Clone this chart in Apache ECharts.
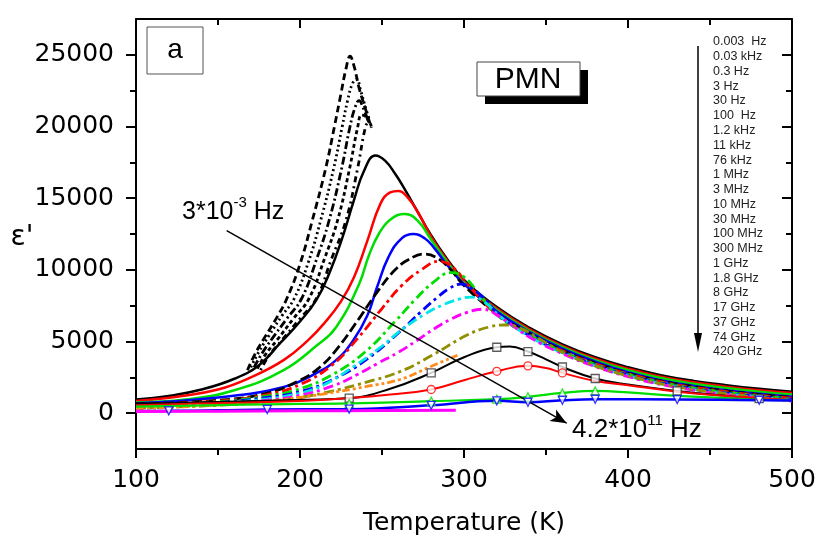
<!DOCTYPE html>
<html><head><meta charset="utf-8">
<script src="https://cdn.jsdelivr.net/npm/echarts@6/dist/echarts.min.js"></script>
<style>html,body{margin:0;padding:0;background:#fff}#c{width:820px;height:546px}</style>
</head><body><div id="c"></div>
<script>
// ---- tick labels ----
const xTicks = [100, 200, 300, 400, 500];
const yMajor = [0, 5000, 10000, 15000, 20000, 25000];
const yMinor = [2500, 7500, 12500, 17500, 22500];
const freqLabels = ['0.003  Hz','0.03 kHz','0.3 Hz','3 Hz','30 Hz','100  Hz','1.2 kHz','11 kHz','76 kHz','1 MHz','3 MHz','10 MHz','30 MHz','100 MHz','300 MHz','1 GHz','1.8 GHz','8 GHz','17 GHz','37 GHz','74 GHz','420 GHz'];

// ---- series values [T (K), eps'] ----
const d0003Hz = [[168,3000],[172,4000],[178,5200],[186,6700],[192,8000],[200,10400],[207.5,13450],[215.5,17000],[221,20000],[225,22300],[228,24000],[230.5,24900],[233,24200],[236,22700],[240,21200],[243.5,19900]];
const d003kHz = [[170,3200],[175,4300],[181,5400],[189,6800],[196.5,8000],[205,10500],[212.6,13450],[220.4,17000],[225.75,20000],[229,21800],[232,23000],[234.5,23300],[237,22500],[240,21300],[242.5,20400]];
const d03Hz = [[172,3200],[177,4200],[183,5200],[192,6600],[201,8000],[210,10700],[217.75,13450],[225.25,17000],[230.5,20000],[233.5,21300],[236,21800],[238.5,21300],[241.5,20400]];
const d3Hz = [[174,3100],[179,4100],[186,5100],[196,6600],[205.5,8000],[215,10800],[222.9,13450],[230.1,17000],[235.25,20000],[237.5,20800],[240,20700],[242,20300]];
const d30Hz = [[176,3000],[181,4000],[189,5100],[200,6600],[210,8000],[219,10700],[228,13450],[235,17000],[240,20000],[242,20300],[243.5,20000]];
const s100Hz = [[100,950],[120,1200],[140,1650],[160,2400],[175,3350],[188,4900],[200,6400],[210,7900],[218,9800],[226,12300],[233,14900],[239,16900],[246,17970],[252,17600],[258,16700],[264,15600],[270,14400],[280,12400],[290,10700],[300,9300],[320,7400],[340,5950],[360,4800],[380,3900],[400,3200],[420,2650],[440,2250],[460,1950],[480,1700],[500,1500]];
const s12kHz = [[100,850],[125,1150],[150,1650],[170,2500],[190,3700],[205,5100],[215,6300],[225,7800],[233,9500],[241,12000],[249,14600],[255,15400],[260,15500],[266,15000],[272,14000],[280,12300],[290,10600],[300,9200],[320,7300],[340,5850],[360,4700],[380,3800],[400,3100],[420,2550],[440,2150],[460,1850],[480,1600],[500,1400]];
const s11kHz = [[100,750],[130,950],[160,1600],[190,3000],[210,4700],[222,6000],[236,9000],[242,11000],[248,12500],[255,13500],[264,13900],[272,13400],[280,12100],[290,10500],[300,9100],[320,7200],[340,5750],[360,4600],[380,3700],[400,3000],[420,2450],[440,2050],[460,1750],[480,1500],[500,1300]];
const s76kHz = [[100,700],[150,1100],[190,1830],[210,2800],[222,3700],[232,5000],[241,6800],[247,8800],[254,10900],[262,12200],[269,12500],[276,12200],[282,11500],[290,10300],[300,9000],[320,7100],[340,5650],[360,4500],[380,3600],[400,2850],[420,2300],[440,1900],[460,1600],[480,1350],[500,1150]];
const s1MHz = [[100,650],[150,900],[180,1400],[200,2300],[212,3200],[222,4400],[236,6600],[248,8600],[258,10000],[266,10700],[276,11100],[284,10800],[292,10000],[300,8900],[320,6950],[340,5550],[360,4400],[380,3500],[400,2780],[420,2250],[440,1850],[460,1550],[480,1300],[500,1100]];
const s3MHz = [[100,600],[150,850],[180,1300],[200,2000],[220,3400],[235,5200],[250,7300],[262,8900],[274,10000],[285,10600],[294,10100],[302,9000],[320,6900],[340,5500],[360,4350],[380,3450],[400,2750],[420,2200],[440,1800],[460,1500],[480,1250],[500,1050]];
const s10MHz = [[100,550],[150,800],[180,1200],[200,1700],[220,2700],[240,4300],[258,6400],[270,7900],[281,9100],[292,9800],[300,9500],[308,8500],[320,6850],[340,5450],[360,4300],[380,3400],[400,2700],[420,2150],[440,1750],[460,1450],[480,1200],[500,1000]];
const s30MHz = [[100,500],[150,750],[180,1100],[200,1500],[220,2350],[240,3700],[260,5600],[274,7100],[284,8100],[291,8700],[298,9000],[306,8600],[314,7800],[322,6750],[340,5400],[360,4250],[380,3350],[400,2650],[420,2100],[440,1700],[460,1400],[480,1150],[500,950]];
const s100MHz = [[100,450],[150,700],[180,1000],[200,1400],[215,2000],[232,3200],[248,4500],[263,5900],[276,6900],[287,7550],[297,7950],[304,8100],[312,7800],[322,6750],[340,5350],[360,4200],[380,3300],[400,2600],[420,2050],[440,1650],[460,1350],[480,1100],[500,900]];
const s300MHz = [[100,400],[150,650],[180,900],[200,1250],[220,1900],[235,2700],[247,3450],[260,4250],[271,5050],[282,5900],[291,6500],[301,7000],[311,7250],[322,6700],[340,5300],[360,4150],[380,3250],[400,2550],[420,2000],[440,1600],[460,1300],[480,1050],[500,850]];
const s1GHz = [[100,350],[150,550],[180,800],[200,1100],[220,1550],[240,2150],[261,2900],[280,4000],[301.6,5430],[315,6000],[325,6150],[335,5900],[345,5250],[360,4250],[380,3300],[400,2600],[420,2050],[440,1650],[460,1350],[480,1100],[500,900]];
const s18GHz = [[100,300],[130,450],[160,650],[190,950],[215,1350],[240,1850],[261,2350],[279,3220],[296,4040]];
const s8GHz = [[100,650],[120,700],[150,780],[180,870],[200,930],[230,1050],[255,1700],[280,2810],[300,3900],[320,4600],[328,4650],[339,4300],[350,3750],[360,3220],[380,2420],[400,2000],[430,1550],[460,1200],[480,1020],[500,900]];
const s17GHz = [[100,550],[150,700],[200,850],[230,1050],[255,1300],[280,1650],[300,2300],[320,2920],[339,3300],[350,3150],[360,2810],[380,2250],[400,1950],[430,1500],[460,1200],[480,1050],[500,900]];
const s37GHz = [[100,450],[120,500],[150,560],[180,620],[230,680],[280,840],[320,975],[339,1140],[360,1410],[380,1550],[400,1450],[430,1200],[480,950],[500,900]];
const s74GHz = [[100,150],[120,160],[150,200],[180,260],[230,280],[280,550],[320,860],[339,760],[360,900],[380,970],[430,950],[480,900],[500,880]];
const s420GHz = [[100,120],[150,140],[200,160],[250,180],[295,200]];
// marker positions
const m8GHz = [[230,1050],[280,2810],[320,4600],[339,4300],[360,3220],[380,2420],[430,1550],[480,1020]];
const m17GHz = [[280,1650],[320,2920],[339,3300],[360,2810]];
const m37GHz = [[230,680],[280,840],[320,975],[339,1140],[360,1410],[380,1550]];
const m74GHz = [[120,160],[180,260],[230,280],[280,550],[320,860],[339,760],[360,900],[380,970],[430,950],[480,900]];
// annotation arrow (data coordinates)
const arrowFrom = [155.3, 12730];
const arrowTo = [362.6, -700];

const BLACK='#000000', RED='#ff0000', GREEN='#00dd00', BLUE='#0000ff', CYAN='#00e5e5', MAG='#ff00ff', OLIVE='#8f8f00', ORANGE='#ff8c1a';

function line(name, data, color, type, width) {
  return {name, type:'line', data, xAxisIndex:0, yAxisIndex:0, showSymbol:false, symbol:'none',
    smooth:0.45, silent:true, animation:false,
    lineStyle:{color, width: width||2.5, type: type||'solid'}};
}
function marks(name, data, color, symbol, rot) {
  return {name, type:'scatter', data, xAxisIndex:0, yAxisIndex:0, symbol, symbolSize:8, symbolRotate: rot||0,
    silent:true, animation:false, z:5, itemStyle:{color:'#ffffff', borderColor:color, borderWidth:1.3}};
}

const series = [
  line('0.003 Hz', d0003Hz, BLACK, [7,4], 2.8),
  line('0.03 kHz', d003kHz, BLACK, [2,3], 2.8),
  line('0.3 Hz', d03Hz, BLACK, [8,3,2,3], 2.8),
  line('3 Hz', d3Hz, BLACK, [4,3], 2.8),
  line('30 Hz', d30Hz, BLACK, [2,4,6,4], 2.8),
  line('100 Hz', s100Hz, BLACK),
  line('1.2 kHz', s12kHz, RED),
  line('11 kHz', s11kHz, GREEN),
  line('76 kHz', s76kHz, BLUE),
  line('1 MHz', s1MHz, BLACK, [10,4], 2.8),
  line('3 MHz', s3MHz, RED, [10,4,3,4], 2.8),
  line('10 MHz', s10MHz, GREEN, [10,4,3,4], 2.8),
  line('30 MHz', s30MHz, BLUE, [10,4,3,4], 2.8),
  line('100 MHz', s100MHz, CYAN, [10,4,3,4], 2.8),
  line('300 MHz', s300MHz, MAG, [10,4,3,4], 2.8),
  line('1 GHz', s1GHz, OLIVE, [10,4,3,4], 2.8),
  line('1.8 GHz', s18GHz, ORANGE, [8,3,3,3,3,3], 2.8),
  line('8 GHz', s8GHz, BLACK, 'solid', 2),
  line('17 GHz', s17GHz, RED, 'solid', 2),
  line('37 GHz', s37GHz, GREEN, 'solid', 2.2),
  line('74 GHz', s74GHz, BLUE, 'solid', 2.5),
  line('420 GHz', s420GHz, MAG, 'solid', 3),
  marks('8 GHz pts', m8GHz, '#333333', 'rect'),
  marks('17 GHz pts', m17GHz, RED, 'circle'),
  marks('37 GHz pts', m37GHz, GREEN, 'triangle'),
  marks('74 GHz pts', m74GHz, BLUE, 'triangle', 180),
  {type:'line', data:[], xAxisIndex:0, yAxisIndex:0, silent:true, animation:false,
   markLine:{silent:true, animation:false, symbol:['none','arrow'], symbolSize:[10,16],
     lineStyle:{color:'#000', width:1.5, type:'solid'}, label:{show:false},
     data:[[{coord:arrowFrom},{coord:arrowTo}]]}}
];

const axisCol = '#000';
const fmt = v => String(v);
const option = {
  animation:false,
  backgroundColor:'#ffffff',
  grid:{left:136, right:28, top:19, bottom:97, containLabel:false},
  xAxis:[
    {type:'value', min:100, max:500, interval:100, position:'bottom',
     axisLine:{show:true, onZero:false, lineStyle:{color:axisCol, width:2}},
     axisTick:{show:true, length:9, lineStyle:{color:axisCol, width:2}},
     minorTick:{show:true, splitNumber:2, length:6, lineStyle:{color:axisCol, width:2}},
     splitLine:{show:false},
     axisLabel:{fontSize:25, color:'#000', margin:19, fontFamily:'DejaVu Sans', formatter:fmt},
     name:'Temperature (K)', nameLocation:'middle', nameGap:62,
     nameTextStyle:{fontSize:25, color:'#000', fontFamily:'DejaVu Sans'}},
    {type:'value', min:100, max:500, interval:100, position:'top',
     axisLine:{show:true, onZero:false, lineStyle:{color:axisCol, width:2}},
     axisTick:{show:true, inside:true, length:9, lineStyle:{color:axisCol, width:2}},
     minorTick:{show:true, splitNumber:2, length:6, lineStyle:{color:axisCol, width:2}},
     splitLine:{show:false}, axisLabel:{show:false}}
  ],
  yAxis:[
    {type:'value', min:-2500, max:27500, position:'left',
     axisLine:{show:true, onZero:false, lineStyle:{color:axisCol, width:2}},
     axisTick:{show:true, length:10, customValues:yMajor, lineStyle:{color:axisCol, width:2}},
     splitLine:{show:false},
     axisLabel:{show:true, customValues:yMajor, fontSize:25, color:'#000', margin:22, fontFamily:'DejaVu Sans', formatter:fmt}},
    {type:'value', min:-2500, max:27500, position:'right',
     axisLine:{show:true, onZero:false, lineStyle:{color:axisCol, width:2}},
     axisTick:{show:true, inside:true, length:10, customValues:yMajor, lineStyle:{color:axisCol, width:2}},
     splitLine:{show:false}, axisLabel:{show:false}},
    {type:'value', min:-2500, max:27500, position:'left',
     axisLine:{show:false},
     axisTick:{show:true, length:6, customValues:yMinor, lineStyle:{color:axisCol, width:2}},
     splitLine:{show:false}, axisLabel:{show:false}},
    {type:'value', min:-2500, max:27500, position:'right',
     axisLine:{show:false},
     axisTick:{show:true, inside:true, length:6, customValues:yMinor, lineStyle:{color:axisCol, width:2}},
     splitLine:{show:false}, axisLabel:{show:false}}
  ],
  series,
  graphic:[]
};

// annotation graphics
const g = option.graphic;
g.push({type:'rect', shape:{x:147, y:27, width:56, height:47}, style:{fill:'#fff', stroke:'#555', lineWidth:1}, z:100});
g.push({type:'text', x:175, y:50, style:{text:'a', fontSize:28, fontFamily:'Liberation Sans', fill:'#000', align:'center', verticalAlign:'middle'}, z:101});
g.push({type:'rect', shape:{x:485, y:70, width:103, height:34}, style:{fill:'#000'}, z:100});
g.push({type:'rect', shape:{x:477, y:62, width:103, height:34}, style:{fill:'#fff', stroke:'#444', lineWidth:1}, z:101});
g.push({type:'text', x:528, y:80, style:{text:'PMN', fontSize:30, fontFamily:'Liberation Sans', fill:'#000', align:'center', verticalAlign:'middle'}, z:102});
g.push({type:'text', x:22, y:238, style:{text:"ε'", fontSize:28, fontFamily:'DejaVu Sans', fill:'#000', align:'center', verticalAlign:'middle'}, z:102});
g.push({type:'text', x:182, y:210, style:{
  text:'{n|3*10}{s|-3}{n| Hz}', fontFamily:'Liberation Sans', fill:'#000', verticalAlign:'middle',
  rich:{n:{fontSize:25, fontFamily:'Liberation Sans', verticalAlign:'bottom', lineHeight:30},
        s:{fontSize:15, fontFamily:'Liberation Sans', verticalAlign:'top', lineHeight:30}}}, z:102});
g.push({type:'text', x:572, y:428, style:{
  text:'{n|4.2*10}{s|11}{n| Hz}', fontFamily:'Liberation Sans', fill:'#000', verticalAlign:'middle',
  rich:{n:{fontSize:26, fontFamily:'Liberation Sans', verticalAlign:'bottom', lineHeight:30},
        s:{fontSize:15, fontFamily:'Liberation Sans', verticalAlign:'top', lineHeight:30}}}, z:102});
// frequency list and its arrow
freqLabels.forEach((t, i) => {
  g.push({type:'text', x:713, y:42 + i*14.76, style:{text:t, fontSize:12.5, fontFamily:'Liberation Sans', fill:'#222', verticalAlign:'middle'}, z:102});
});
g.push({type:'line', shape:{x1:698, y1:46, x2:698, y2:344}, style:{stroke:'#000', lineWidth:1.5}, z:102});
g.push({type:'polygon', shape:{points:[[694,333],[702,333],[698,352]]}, style:{fill:'#000'}, z:102});

const chart = echarts.init(document.getElementById('c'), null, {renderer:'canvas'});
chart.setOption(option);
</script></body></html>
